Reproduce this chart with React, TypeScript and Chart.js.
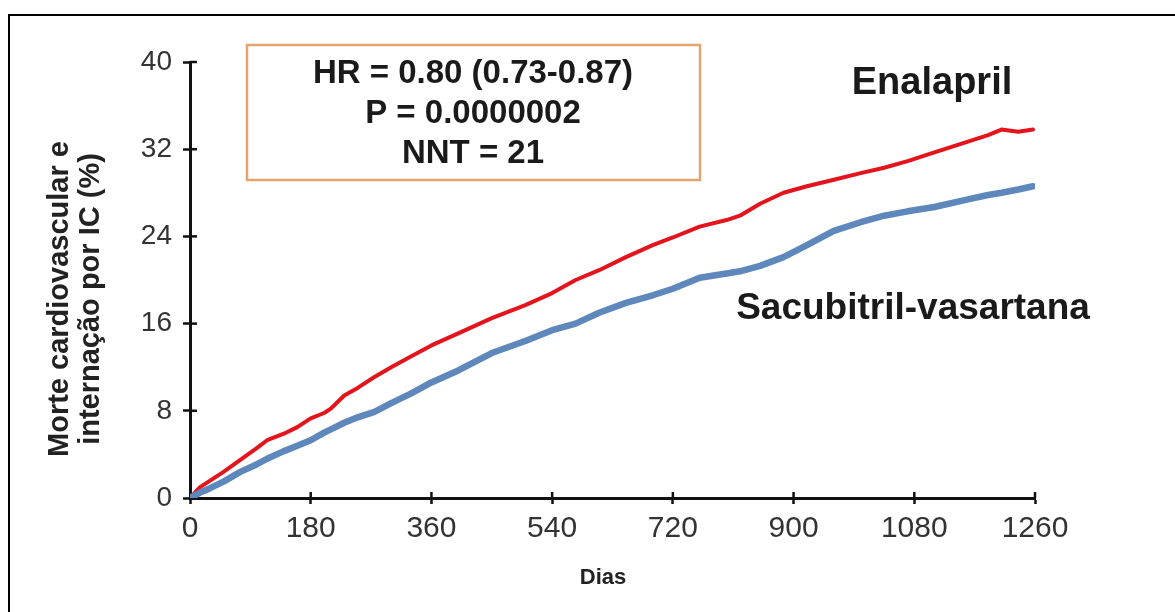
import React, { useEffect, useRef } from "react";
import { Chart, registerables } from "chart.js";

Chart.register(...registerables);

// ---- Data ----
const DAYS = [0, 15, 30, 50, 75, 100, 115, 140, 160, 180, 200, 210, 230, 250, 275, 300, 330, 360, 400, 450, 500, 540, 575, 610, 650, 690, 720, 760, 800, 820, 850, 885, 920, 960, 1000, 1035, 1070, 1110, 1160, 1190, 1210, 1235, 1257];
const ENALAPRIL = [0, 1.0, 1.6, 2.4, 3.5, 4.6, 5.3, 5.9, 6.5, 7.3, 7.8, 8.2, 9.4, 10.1, 11.1, 12.0, 13.0, 14.0, 15.1, 16.5, 17.7, 18.8, 20.0, 20.9, 22.1, 23.2, 23.9, 24.9, 25.5, 25.9, 27.0, 28.0, 28.6, 29.2, 29.8, 30.3, 30.9, 31.7, 32.7, 33.3, 33.8, 33.6, 33.8];
const SACUBITRIL = [0, 0.5, 0.9, 1.5, 2.4, 3.1, 3.6, 4.3, 4.8, 5.3, 6.0, 6.3, 6.9, 7.4, 7.9, 8.7, 9.6, 10.6, 11.7, 13.3, 14.4, 15.4, 16.0, 17.0, 17.9, 18.6, 19.2, 20.2, 20.6, 20.8, 21.3, 22.1, 23.2, 24.5, 25.3, 25.9, 26.3, 26.7, 27.4, 27.8, 28.0, 28.3, 28.6];
const X_TICKS = [0, 180, 360, 540, 720, 900, 1080, 1260];
const Y_TICKS = [0, 8, 16, 24, 32, 40];
const SERIES_NAMES = ["Enalapril", "Sacubitril-vasartana"];
const STATS_LINES = ["HR = 0.80 (0.73-0.87)", "P = 0.0000002", "NNT = 21"];
const Y_TITLE = ["Morte cardiovascular e", "internação por IC (%)"];
const X_TITLE = "Dias";

const FONT = "'Liberation Sans', Arial, Helvetica, sans-serif";

const overlayPlugin = {
  id: "overlay",
  afterDraw(chart: any) {
    const ctx = chart.ctx as CanvasRenderingContext2D;
    const area = chart.chartArea;
    const xs = chart.scales.x;
    const ys = chart.scales.y;
    ctx.save();
    // inner halves of the tick marks (crossing the axes)
    ctx.strokeStyle = "#111";
    ctx.lineWidth = 2.5;
    X_TICKS.forEach((v) => {
      if (v === 0) return;
      const px = xs.getPixelForValue(v);
      ctx.beginPath();
      ctx.moveTo(px, area.bottom);
      ctx.lineTo(px, area.bottom - 6);
      ctx.stroke();
    });
    Y_TICKS.forEach((v) => {
      if (v === 0) return;
      const py = ys.getPixelForValue(v);
      ctx.beginPath();
      ctx.moveTo(area.left, py);
      ctx.lineTo(area.left + 7, py);
      ctx.stroke();
    });

    // statistics box
    ctx.strokeStyle = "#E2A56E";
    ctx.lineWidth = 2.5;
    ctx.strokeRect(247, 45, 453, 135);
    ctx.fillStyle = "#1a1a1a";
    ctx.textAlign = "center";
    ctx.textBaseline = "middle";
    ctx.font = `bold 33px ${FONT}`;
    STATS_LINES.forEach((t, i) => ctx.fillText(t, 473, 74 + i * 40));

    // series labels
    ctx.font = `bold 38px ${FONT}`;
    ctx.fillText(SERIES_NAMES[0], 932, 84);
    ctx.font = `bold 37px ${FONT}`;
    ctx.fillText(SERIES_NAMES[1], 913, 309);

    // x title
    ctx.fillStyle = "#222";
    ctx.font = `bold 22px ${FONT}`;
    ctx.fillText(X_TITLE, 603, 578);

    // y title (rotated)
    ctx.font = `bold 29px ${FONT}`;
    Y_TITLE.forEach((t, i) => {
      ctx.save();
      ctx.translate(60 + i * 31, 299);
      ctx.rotate(-Math.PI / 2);
      ctx.fillText(t, 0, 0);
      ctx.restore();
    });
    ctx.restore();
  },
};

export default function App() {
  const canvasRef = useRef<HTMLCanvasElement | null>(null);

  useEffect(() => {
    if (!canvasRef.current) return;
    const chart = new Chart(canvasRef.current, {
      type: "line",
      data: {
        datasets: [
          {
            label: SERIES_NAMES[1],
            data: DAYS.map((d, i) => ({ x: d, y: SACUBITRIL[i] })),
            borderColor: "#5E88BC",
            borderWidth: 6.5,
            pointRadius: 0,
            tension: 0,
            borderJoinStyle: "round",
            borderCapStyle: "round",
          },
          {
            label: SERIES_NAMES[0],
            data: DAYS.map((d, i) => ({ x: d, y: ENALAPRIL[i] })),
            borderColor: "#E3141C",
            borderWidth: 4,
            pointRadius: 0,
            tension: 0,
            borderJoinStyle: "round",
            borderCapStyle: "round",
          },
        ],
      },
      options: {
        responsive: false,
        animation: false,
        layout: { padding: { top: 62, right: 140, left: 0, bottom: 0 } },
        plugins: {
          legend: { display: false },
          tooltip: { enabled: false },
          title: { display: false },
        },
        scales: {
          x: {
            type: "linear",
            min: 0,
            max: 1260,
            afterFit: (s: any) => {
              s.height = 114;
            },
            afterBuildTicks: (s: any) => {
              s.ticks = X_TICKS.map((v) => ({ value: v }));
            },
            grid: {
              drawOnChartArea: false,
              drawTicks: true,
              tickLength: 6,
              tickWidth: 2.5,
              tickColor: "#111",
            },
            border: { color: "#111", width: 3 },
            ticks: {
              padding: 7,
              color: "#333",
              maxRotation: 0,
              autoSkip: false,
              font: { family: FONT, size: 30 },
              callback: (v: any) => String(v),
            },
          },
          y: {
            type: "linear",
            min: 0,
            max: 40,
            afterFit: (s: any) => {
              s.width = 190;
            },
            afterBuildTicks: (s: any) => {
              s.ticks = Y_TICKS.map((v) => ({ value: v }));
            },
            grid: {
              drawOnChartArea: false,
              drawTicks: true,
              tickLength: 7,
              tickWidth: 2.5,
              tickColor: "#111",
            },
            border: { color: "#111", width: 3 },
            ticks: {
              padding: 11,
              color: "#333",
              autoSkip: false,
              font: { family: FONT, size: 28 },
              callback: (v: any) => String(v),
            },
          },
        },
      },
      plugins: [overlayPlugin],
    });
    return () => chart.destroy();
  }, []);

  return (
    <div style={{ position: "fixed", left: 0, top: 0, width: 1175, height: 612, background: "#fff", overflow: "hidden" }}>
      <div
        style={{
          position: "absolute",
          left: 8,
          top: 14,
          right: 0,
          bottom: 0,
          borderTop: "2px solid #000",
          borderLeft: "2px solid #000",
        }}
      />
      <canvas ref={canvasRef} width={1175} height={612} style={{ position: "absolute", left: 0, top: 0 }} />
    </div>
  );
}
